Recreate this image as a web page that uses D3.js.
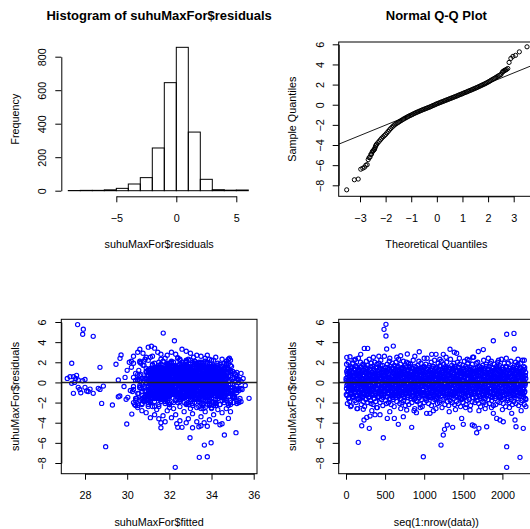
<!DOCTYPE html>
<html><head><meta charset="utf-8">
<script src="https://cdn.jsdelivr.net/npm/d3@7"></script>
<style>body{margin:0;background:#fff}svg{display:block}</style>
</head><body><svg id="c" width="530" height="529"></svg>
<script>
// ---------------- DATA ----------------
const histBreaks = [-9,-8,-7,-6,-5,-4,-3,-2,-1,0,1,2,3,4,5,6];
const histCounts = [1,2,2,5,14,40,78,255,645,856,350,68,6,3,4];
const histXTicks = [-5,0,5];
const histYTicks = [0,200,400,600,800];

const qqPoints = [
[-3.52,-8.45],[-3.22,-7.45],[-3.07,-7.38],[-2.97,-6.4],[-2.89,-6.3],[-2.82,-6.2],[-2.77,-6.0],[-2.72,-5.95],[-2.68,-5.45],[-2.645,-5.25],[-2.61,-5.2],[-2.58,-4.95],[-2.55,-4.9],[-2.525,-4.7],[-2.5,-4.6],[-2.475,-4.55],[-2.45,-4.45],[-2.43,-4.4],[-2.41,-4.25],[-2.39,-4.1],[-2.37,-4.0],[-2.35,-3.92],[-2.3,-3.77],[-2.25,-3.62],[-2.2,-3.47],[-2.15,-3.32],[-2.1,-3.19],[-2.05,-3.07],[-2.0,-2.95],[-1.95,-2.8],[-1.9,-2.65],[-1.85,-2.5],[-1.8,-2.36],[-1.75,-2.23],[-1.7,-2.11],[-1.65,-2.0],[-1.6,-1.9],[-1.55,-1.82],[-1.5,-1.74],[-1.45,-1.66],[-1.4,-1.58],[-1.35,-1.5],[-1.3,-1.42],[-1.25,-1.35],[-1.2,-1.28],[-1.15,-1.21],[-1.1,-1.14],[-1.05,-1.08],[-1.0,-1.02],[-0.95,-0.96],[-0.9,-0.89],[-0.85,-0.83],[-0.8,-0.77],[-0.75,-0.72],[-0.7,-0.66],[-0.65,-0.61],[-0.6,-0.55],[-0.55,-0.5],[-0.5,-0.45],[-0.45,-0.4],[-0.4,-0.35],[-0.35,-0.3],[-0.3,-0.25],[-0.25,-0.2],[-0.2,-0.14],[-0.15,-0.08],[-0.1,-0.03],[-0.05,0.03],[0,0.09],[0.05,0.14],[0.1,0.19],[0.15,0.24],[0.2,0.29],[0.25,0.34],[0.3,0.39],[0.35,0.44],[0.4,0.49],[0.45,0.54],[0.5,0.59],[0.55,0.64],[0.6,0.69],[0.65,0.74],[0.7,0.79],[0.75,0.84],[0.8,0.89],[0.85,0.95],[0.9,1.0],[0.95,1.05],[1.0,1.1],[1.05,1.16],[1.1,1.21],[1.15,1.26],[1.2,1.31],[1.25,1.37],[1.3,1.42],[1.35,1.47],[1.4,1.53],[1.45,1.58],[1.5,1.64],[1.55,1.69],[1.6,1.75],[1.65,1.81],[1.7,1.87],[1.75,1.93],[1.8,1.99],[1.85,2.05],[1.9,2.11],[1.95,2.18],[2.0,2.25],[2.05,2.32],[2.1,2.4],[2.15,2.48],[2.2,2.55],[2.25,2.62],[2.3,2.7],[2.35,2.78],[2.4,2.86],[2.45,2.93],[2.5,3.0],[2.55,3.2],[2.58,3.3],[2.61,3.35],[2.645,3.4],[2.68,3.45],[2.72,3.5],[2.77,3.6],[2.82,4.2],[2.89,4.6],[2.97,4.8],[3.07,4.9],[3.22,5.25],[3.52,5.75]
];
const qqLineCoef = [0.05, 1.036]; // intercept, slope
const qqXTicks = [-3,-2,-1,0,1,2,3];
const residYTicks = [-8,-6,-4,-2,0,2,4,6];
const fittedXTicks = [28,30,32,34,36];
const indexXTicks = [0,500,1000,1500,2000];
const nObs = 2300;

// residuals of a first sample of observations (time order)
const residualsCore = [
0.4,-1.2,1.8,-0.3,0.9,-2.1,1.3,0.1,-0.8,2.0,-1.6,0.6,-0.1,1.1,-1.9,0.3,-0.6,1.6,-1.0,0.8,-2.3,1.4,-0.4,0.2,-1.4,
1.0,-0.7,1.9,-1.5,0.5,-0.2,2.2,-1.1,0.7,-1.8,1.2,0.0,-0.9,1.7,-2.0,0.4,-0.5,1.5,-1.3,0.9,-2.6,1.1,-0.3,2.4,-1.7,
0.6,-1.0,1.3,-0.1,0.8,-1.6,2.0,-0.6,0.2,-2.2,1.5,-0.8,1.0,-1.4,0.3,1.8,-0.4,-1.9,0.7,1.2,-1.1,0.1,-2.4,1.6,-0.2,
-0.9,1.4,-1.7,0.5,2.1,-0.5,0.9,-1.2,1.7,-2.0,0.0,1.1,-0.7,-1.5,0.6,2.3,-1.0,0.4,-0.3,1.3,-1.8,0.8,-2.1,1.9,-0.6,
0.2,-1.3,1.0,-0.8,1.6,-2.2,0.7,-0.1,1.2,-1.6,0.3,2.0,-0.4,-1.1,0.9,-1.9,1.5,-0.6,0.5,-2.5,1.8,-0.2,1.1,-1.4,0.6,
-1.5,0.8,-0.3,1.9,-1.0,0.1,1.4,-2.0,0.4,-0.7,2.2,-1.2,0.9,-1.7,0.0,1.3,-0.5,1.7,-2.3,0.6,-0.9,1.0,-1.3,0.3,2.6,
1.2,-0.4,0.7,-1.8,1.5,-0.8,0.2,-2.1,1.0,-0.1,1.8,-1.4,0.5,-0.6,1.3,-2.0,0.8,-1.1,2.1,-0.3,0.4,-1.6,1.6,-0.9,0.0,
-2.2,1.1,-0.5,0.6,-1.2,1.9,-0.2,0.9,-1.7,1.4,-0.7,0.3,-2.4,1.7,-1.0,0.5,1.2,-0.4,-1.5,2.0,-0.8,0.1,-1.9,1.5,0.7,
0.3,-1.1,1.6,-0.6,2.3,-1.4,0.8,-0.2,1.1,-2.1,0.5,-0.9,1.8,-1.6,0.0,1.3,-0.5,-2.0,0.9,1.5,-1.2,0.4,-0.7,2.1,-1.8,
1.4,-0.3,0.6,-1.5,1.0,-2.3,1.7,-0.8,0.2,-1.1,2.0,-0.1,0.7,-1.9,1.2,-0.6,0.4,-1.3,1.9,-2.2,0.9,-0.4,1.5,-1.0,0.1,
-0.7,1.8,-1.6,0.3,1.1,-0.2,-2.0,1.4,-0.9,0.6,-1.4,2.2,-0.5,0.8,-1.7,1.0,0.0,-2.6,1.6,-1.1,0.5,-0.3,1.3,-1.8,0.9,
0.5,-1.9,1.2,-0.6,1.7,-1.3,0.1,-0.8,2.1,-1.5,0.7,-0.1,1.4,-2.2,0.3,-1.0,1.9,-0.4,0.8,-1.7,1.1,-2.4,0.2,1.5,-0.7,
-1.2,0.9,-0.3,1.6,-2.0,0.4,1.0,-1.6,0.6,-0.5,1.8,-1.1,0.0,-1.8,1.3,2.4,-0.9,0.7,-1.4,0.2,1.5,-2.1,0.8,-0.2,1.1,
1.7,-0.8,0.3,-1.5,1.2,-0.4,2.0,-2.3,0.5,-1.0,1.4,-0.6,0.9,-1.9,0.1,1.6,-1.2,0.6,-0.1,2.2,-1.7,0.4,-0.7,1.0,-1.4,
0.0,-1.6,1.5,-0.9,0.8,-2.1,1.1,-0.3,1.9,-1.3,0.4,-0.5,1.3,-2.0,0.7,-1.1,1.7,-0.2,0.5,-1.8,2.1,-0.6,0.2,-2.5,1.2,
-0.4,1.0,-1.7,0.6,1.8,-1.0,0.2,-0.7,1.4,-2.2,0.9,-0.1,1.6,-1.5,0.3,-0.8,2.0,-1.2,0.7,-1.9,1.1,0.0,-0.5,1.5,-2.3,
0.8,-1.4,1.3,-0.2,0.5,-1.8,2.3,-0.9,1.0,-1.2,0.1,1.7,-0.6,-2.0,0.6,1.2,-1.6,0.4,-0.3,1.9,-1.1,0.9,-2.2,0.2,1.4,
-1.0,0.3,1.6,-0.5,-1.9,1.1,0.7,-1.3,2.0,-0.1,0.4,-2.1,1.5,-0.8,0.9,-1.5,0.0,1.8,-0.7,1.2,-2.4,0.6,-0.4,1.0,-1.7,
1.1,-0.6,0.2,-1.6,1.7,-2.0,0.8,-0.3,1.3,-1.1,2.1,-0.9,0.5,-1.4,0.0,1.6,-2.2,0.9,-0.5,1.4,-1.8,0.3,-1.0,1.9,-0.2,
-1.3,0.7,-0.4,2.2,-1.7,0.1,1.2,-0.8,0.6,-2.3,1.5,-0.2,1.0,-1.2,0.4,-1.9,1.8,-0.6,0.8,-1.5,0.2,2.5,-1.1,0.5,-0.9,
0.9,-2.0,1.4,-0.1,0.3,-1.5,1.9,-0.7,1.1,-1.8,0.6,-0.4,2.0,-1.0,0.0,1.3,-2.1,0.7,-0.3,1.6,-1.4,1.0,-0.6,-2.4,1.2,
-0.2,1.5,-1.1,0.4,-1.9,0.8,1.7,-0.5,0.2,-1.3,2.2,-2.0,0.6,-0.8,1.2,-0.1,-1.6,1.0,0.3,-2.2,1.8,-0.7,0.9,-1.2,0.1,
1.3,-0.9,0.5,-1.7,1.0,-0.3,1.6,-2.1,0.7,-1.0,0.1,1.9,-1.4,0.4,-0.6,2.1,-1.8,0.8,-0.2,1.1,-1.5,0.0,1.4,-2.3,0.6,
-1.1,0.2,1.8,-0.4,0.9,-1.6,0.5,-2.2,1.3,-0.7,1.6,-1.2,0.3,-0.1,2.0,-1.9,0.7,-0.5,1.2,-1.4,0.4,1.7,-0.8,-2.0,1.0,
0.6,-1.5,1.1,-0.2,2.3,-1.0,0.0,-1.7,1.5,-0.6,0.8,-2.1,1.3,-0.9,0.4,1.9,-1.3,0.1,-0.4,1.0,-2.4,1.6,-0.7,0.5,-1.2,
1.6,-0.1,0.4,-1.8,1.2,-0.6,1.9,-1.1,0.2,-2.0,0.9,-0.3,1.4,-1.5,0.6,-0.8,2.1,-1.7,0.0,1.1,-1.2,0.7,-2.2,1.5,-0.5,
-0.8,1.2,-1.9,0.5,0.0,1.7,-1.3,0.8,-0.4,2.0,-2.1,0.3,1.0,-0.9,1.4,-1.6,0.6,-0.2,1.8,-1.0,0.2,-2.3,1.3,-0.6,0.9,
0.1,-1.4,1.5,-0.7,1.9,-2.0,0.6,-0.3,1.1,-1.8,0.4,2.2,-1.1,0.8,-0.5,1.6,-1.5,0.2,-2.2,1.3,-0.9,0.7,-0.1,1.0,-1.7
];
const fittedCore = [
32.4,33.1,31.6,34.2,32.9,33.5,31.2,34.8,32.1,33.8,30.7,33.3,32.6,34.5,31.9,33.0,35.1,32.3,31.4,34.0,33.6,32.8,30.3,34.4,31.8,
33.2,32.0,34.7,31.5,33.9,32.5,31.0,34.1,33.4,35.3,32.2,31.7,33.7,34.9,32.7,30.9,33.0,34.3,31.3,32.9,33.5,35.0,31.9,32.4,34.6,
31.1,33.6,32.3,34.0,30.5,33.2,32.8,34.4,31.6,33.9,32.1,35.2,31.4,33.1,34.7,32.6,30.8,33.8,32.0,34.2,31.7,33.4,32.5,33.4,31.2,
34.3,32.7,31.8,33.5,30.2,34.8,32.2,33.0,31.5,34.1,33.7,32.4,31.0,35.0,33.3,32.9,34.6,31.3,33.6,32.1,30.6,34.0,32.8,33.2,31.9,
32.6,34.5,31.4,33.1,32.0,34.9,31.7,33.8,32.3,30.4,34.2,33.4,31.1,32.7,35.1,33.0,31.9,34.4,32.5,33.7,31.2,34.7,32.9,30.9,33.5,
33.9,31.6,32.8,34.3,33.2,31.0,32.4,35.3,33.6,31.8,34.1,32.2,33.0,30.7,34.6,32.6,31.4,33.4,34.8,32.0,33.8,31.5,32.9,34.0,31.2,
31.3,33.3,32.1,34.5,32.7,33.9,30.5,34.2,31.9,33.1,32.5,35.0,31.7,33.6,32.3,34.9,31.1,33.0,32.8,34.4,30.8,33.5,32.0,34.7,31.6,
32.9,34.0,31.2,33.7,32.4,30.3,34.6,33.2,31.8,32.6,35.2,33.4,31.5,34.1,32.2,33.8,31.0,34.3,32.7,33.1,31.4,35.4,32.5,33.9,30.6,
34.4,32.3,33.5,31.7,34.8,32.0,33.0,31.3,34.2,33.6,32.8,30.9,33.3,34.7,31.9,32.5,33.9,31.1,34.0,32.9,33.2,35.1,31.6,32.1,33.7,
31.5,33.8,32.6,34.5,31.0,33.1,32.4,34.9,30.4,33.5,32.2,34.1,31.8,33.4,32.7,35.3,31.2,33.0,34.6,32.0,33.6,31.4,32.8,34.3,33.2,
32.1,34.7,31.9,33.3,32.5,30.7,34.2,33.9,31.6,32.9,33.5,33.0,31.3,34.4,32.3,33.1,31.7,34.0,32.6,30.5,33.7,32.0,34.8,31.1,33.4,
33.0,31.8,34.5,32.4,33.6,31.2,32.8,34.1,33.2,30.8,34.9,32.2,33.8,31.5,32.7,35.2,33.3,31.9,34.3,32.5,33.0,31.0,34.6,32.1,33.9,
34.0,32.6,31.4,33.4,32.0,34.7,31.7,33.1,32.9,30.6,34.4,33.5,31.1,32.3,34.8,33.7,31.6,32.8,35.1,33.2,31.3,34.2,32.4,33.8,30.9,
31.9,33.3,32.7,34.6,31.2,33.0,32.1,34.1,30.3,33.6,32.5,35.4,31.8,33.9,32.2,34.5,31.5,33.2,32.9,34.0,31.0,33.5,32.6,34.9,31.4,
32.8,34.3,31.6,33.1,32.3,30.5,34.7,33.4,31.9,32.0,33.8,35.0,31.3,34.2,32.7,33.0,31.7,34.4,32.4,33.7,30.8,34.0,32.9,33.3,31.1,
33.6,31.5,32.5,34.8,33.2,31.8,32.2,34.5,33.9,30.7,34.1,32.8,33.0,31.2,32.6,35.3,33.5,31.4,34.6,32.1,33.3,31.9,34.3,32.4,30.4,
34.1,32.9,31.0,33.7,32.4,34.9,31.6,33.2,32.7,30.9,34.3,33.5,31.8,32.2,35.2,33.0,31.5,34.6,32.5,33.8,31.3,34.0,32.0,33.4,34.7,
31.7,33.1,32.3,34.4,31.1,33.6,32.8,34.2,30.6,33.3,32.0,34.8,31.4,33.9,32.6,35.1,31.9,33.0,32.4,34.5,31.2,33.7,32.9,34.1,31.6,
32.5,34.6,31.3,33.4,32.1,30.3,34.0,33.8,31.8,32.7,33.2,35.0,31.5,34.3,32.2,33.5,31.0,34.7,32.8,33.1,30.8,34.2,32.4,33.6,31.9,
33.3,31.2,32.6,34.9,33.0,31.7,32.3,34.4,33.7,30.5,34.1,32.9,33.4,31.4,32.0,35.2,33.9,31.6,34.5,32.5,33.1,31.1,34.8,32.7,30.7,
34.2,32.4,31.9,33.5,32.8,34.0,31.3,33.2,32.1,30.9,34.6,33.6,31.5,32.6,35.3,33.0,31.8,34.3,32.3,33.9,31.0,34.7,32.9,33.4,34.1,
31.4,33.7,32.2,34.5,31.6,33.1,32.7,34.9,30.4,33.3,32.5,34.2,31.2,33.8,32.0,35.0,31.7,33.5,32.8,34.4,31.9,33.0,32.4,34.0,31.1,
32.6,34.8,31.5,33.2,32.3,30.6,34.1,33.6,31.8,32.9,33.4,32.1,31.3,34.5,32.1,33.7,31.0,34.3,32.7,33.1,30.8,34.6,32.5,33.9,31.6,
33.5,31.9,32.8,34.7,33.3,31.1,32.4,34.0,33.8,30.3,34.4,32.2,33.0,31.4,32.6,35.4,33.6,31.7,34.2,32.0,33.2,31.2,34.9,32.9,30.9,
34.3,32.7,31.6,33.4,32.5,34.6,31.2,33.9,32.3,30.7,34.1,33.1,31.9,32.8,35.2,33.5,31.5,34.8,32.1,33.7,31.3,34.0,32.6,33.3,34.5,
31.8,33.0,32.9,34.2,31.4,33.6,32.0,34.7,30.5,33.2,32.4,34.4,31.1,33.8,32.7,35.0,31.7,33.4,32.2,34.9,31.0,33.1,32.8,34.1,31.5,
32.3,34.5,31.3,33.7,32.6,30.8,34.3,33.5,31.6,32.1,33.9,35.3,31.9,34.0,32.9,33.2,31.2,34.6,32.5,33.0,30.6,34.2,32.7,33.6,31.4,
33.1,31.7,32.4,34.8,33.4,31.0,32.2,34.1,33.8,30.4,34.7,32.8,33.3,31.5,32.0,33.1,33.7,31.8,34.4,32.6,33.0,31.3,34.0,32.3,30.9
];
// residuals of a second, interleaved sample of observations
const residualsCore2 = [
0.2,-0.6,1.1,-1.3,0.5,-0.1,0.8,-0.9,1.4,-0.4,0.3,-1.5,0.9,-0.2,0.6,-1.1,1.2,0.0,-0.7,1.5,-0.3,0.4,-1.2,0.7,-0.5,
-0.8,1.0,0.1,-1.4,0.6,-0.3,1.3,-0.6,0.2,-1.0,0.9,-0.2,1.6,-1.3,0.4,-0.7,0.0,1.1,-0.5,0.3,-1.6,0.8,-0.1,1.2,-0.9,
0.5,-1.1,0.7,-0.4,1.5,-0.8,0.1,-1.3,0.9,-0.2,0.4,-0.6,1.2,-1.5,0.3,-0.1,0.8,-1.0,1.7,-0.4,0.6,-1.2,0.0,1.0,-0.7,
-0.3,0.9,-1.6,0.2,1.1,-0.5,0.6,-0.9,0.0,1.4,-1.2,0.4,-0.3,0.8,-1.4,1.3,-0.6,0.1,-1.0,0.7,-0.2,1.6,-0.8,0.3,-1.1,
1.0,-0.4,0.3,-1.2,0.7,-0.7,1.4,-0.1,0.5,-1.6,0.2,0.9,-0.9,1.1,-0.3,0.6,-1.3,0.0,1.5,-0.6,0.4,-1.0,0.8,-0.2,1.2,
-1.4,0.6,-0.2,1.3,-0.8,0.1,0.9,-1.1,0.5,-0.5,1.7,-0.9,0.3,-1.3,0.7,-0.1,1.0,-0.6,0.2,-1.5,1.2,-0.3,0.6,-0.8,0.4,
0.8,-0.9,0.4,-0.2,1.2,-1.4,0.0,-0.6,1.0,-0.3,0.7,-1.1,1.5,-0.5,0.2,-1.0,0.9,-0.1,0.5,-1.7,1.3,-0.4,0.1,-0.8,1.1,
-0.6,0.3,1.4,-1.0,0.6,-0.3,-1.5,0.9,0.1,-0.7,1.1,-1.2,0.4,0.0,-0.4,1.6,-0.9,0.7,-0.2,1.0,-1.3,0.5,-0.6,1.2,-0.1,
0.4,-1.3,0.9,-0.5,0.2,1.3,-0.8,0.6,-1.1,0.0,1.0,-0.4,0.7,-1.6,0.3,-0.2,1.4,-1.0,0.5,-0.6,1.1,-0.3,0.8,-1.4,0.1,
-0.9,1.2,-0.1,0.5,-1.2,0.8,-0.5,1.5,-0.7,0.3,-1.0,0.9,-0.2,1.1,-1.5,0.6,0.0,-0.8,1.3,-0.4,0.2,-1.1,0.7,-0.3,1.6,
0.6,-0.2,1.1,-1.4,0.3,-0.6,0.8,-1.0,1.4,-0.1,0.5,-1.3,0.0,0.9,-0.7,1.2,-0.4,0.4,-1.6,1.0,-0.9,0.2,1.5,-0.5,-1.2,
-0.4,0.7,-1.1,0.1,1.3,-0.8,0.5,-0.2,1.0,-1.5,0.4,-0.6,1.2,-0.9,0.2,0.8,-1.2,0.6,-0.3,1.4,-1.0,0.0,0.9,-0.7,0.3,
1.2,-0.7,0.2,-1.0,0.8,-0.4,1.5,-1.3,0.4,-0.1,0.6,-1.6,1.0,-0.5,0.3,-0.9,1.3,-0.2,0.7,-1.1,0.1,1.1,-0.6,0.5,-1.4,
-0.1,0.9,-1.3,0.5,-0.6,1.2,-0.3,0.7,-1.0,0.2,1.6,-0.8,0.4,-1.4,0.9,-0.2,0.6,-0.9,1.1,-0.5,0.0,-1.2,1.4,-0.4,0.8,
0.3,-1.0,0.7,-0.3,1.1,-1.5,0.5,-0.7,1.3,-0.1,0.2,-1.2,0.9,-0.6,1.6,-0.4,0.1,-1.1,0.6,-0.8,1.0,-0.2,0.4,-1.3,1.2,
-1.1,0.5,-0.4,1.0,-0.9,0.3,1.4,-0.6,0.0,-1.3,0.8,-0.2,1.2,-1.0,0.4,-0.5,1.5,-0.8,0.2,-1.4,0.7,0.1,-0.3,1.1,-0.7,
0.7,-0.5,1.3,-1.2,0.1,-0.8,0.9,-0.3,0.5,-1.5,1.1,-0.1,0.4,-1.0,1.4,-0.6,0.2,-1.3,0.8,0.0,-0.9,1.6,-0.4,0.6,-1.1,
-0.2,1.1,-0.9,0.4,-1.4,0.8,0.2,-0.5,1.2,-1.1,0.6,-0.3,1.5,-0.7,0.0,1.0,-1.2,0.3,-0.6,0.9,-1.6,0.5,-0.1,1.3,-0.8,
0.9,-1.2,0.3,-0.6,1.4,-0.2,0.6,-1.0,0.1,1.1,-0.8,0.5,-1.5,0.8,-0.4,1.2,-0.1,-1.1,0.7,-0.5,1.0,-1.3,0.4,-0.3,1.5,
-0.5,0.4,-1.3,1.0,-0.1,0.7,-0.8,1.3,-1.0,0.2,0.9,-0.4,0.6,-1.2,1.1,-0.7,0.3,-1.5,0.8,-0.2,1.4,-0.9,0.0,0.5,-1.1,
1.1,-0.3,0.6,-1.1,0.2,-0.7,1.2,-1.4,0.8,-0.5,0.0,1.5,-0.9,0.4,-0.2,1.0,-1.3,0.7,-0.6,0.3,-1.0,1.3,-0.4,0.9,-1.6,
-0.7,1.3,-0.2,0.3,-1.2,0.9,-0.6,1.1,-0.1,-1.5,0.5,-0.4,1.4,-0.9,0.7,-0.3,1.0,-1.1,0.1,-0.8,1.6,-0.5,0.4,-1.0,0.6,
0.5,-0.8,1.0,-0.4,0.1,-1.3,1.3,-0.2,0.7,-1.0,0.4,-0.6,1.1,-1.4,0.2,0.8,-0.9,1.5,-0.3,0.6,-1.2,0.0,0.9,-0.5,1.2,
-1.0,0.2,1.2,-0.7,0.6,-1.4,0.4,-0.1,1.0,-0.9,1.4,-0.3,0.3,-1.1,0.8,-0.6,1.6,-1.3,0.5,0.0,-0.8,1.1,-0.4,0.7,-1.5,
0.8,-1.4,0.5,-0.2,1.1,-0.9,0.2,-0.6,1.3,-1.2,0.7,0.0,-1.0,1.0,-0.4,0.4,-1.6,1.2,-0.1,0.6,-0.7,1.5,-0.3,0.9,-1.1,
-0.3,1.0,-0.9,0.6,-1.6,0.3,1.2,-0.5,0.8,-1.1,0.1,-0.2,1.4,-0.8,0.5,-1.3,0.9,-0.4,1.1,-1.0,0.2,0.7,-0.6,1.3,-0.1,
1.3,-0.6,0.0,-1.2,0.9,-0.3,0.5,-1.5,1.2,-0.7,0.3,-1.0,0.8,-0.1,1.6,-0.9,0.4,-0.5,1.0,-1.3,0.6,-0.2,1.1,-0.8,0.2,
-0.6,0.8,-1.1,1.4,-0.4,0.1,-0.9,1.1,-0.2,0.6,-1.4,0.9,-0.5,0.3,-1.2,1.2,-0.7,0.5,0.0,-1.0,1.5,-0.3,0.7,-1.6,0.4
];
const fittedCore2 = [
32.7,33.4,31.8,34.1,32.2,33.0,31.5,33.7,32.5,34.4,31.2,33.2,32.0,33.9,31.7,32.9,34.2,32.4,31.4,33.5,32.8,33.8,31.0,34.5,32.3,
33.3,32.1,34.0,31.6,33.6,32.6,31.3,33.1,34.3,32.8,31.9,33.4,32.2,34.6,31.1,33.0,32.5,33.8,31.8,34.1,32.9,31.5,33.5,32.3,34.4,
31.7,33.2,32.4,34.2,31.4,33.7,32.9,31.1,33.9,32.0,34.5,31.6,33.3,32.6,34.0,31.9,33.0,32.2,34.3,31.3,33.6,32.8,31.5,33.4,32.1,
34.1,32.5,31.8,33.5,32.9,31.2,33.8,32.3,34.4,31.7,33.1,32.7,31.4,33.9,32.0,34.6,31.9,33.3,32.4,31.0,33.6,32.8,34.2,31.6,33.0,
32.2,33.7,31.5,34.0,32.6,33.2,31.8,34.3,32.9,31.3,33.5,32.1,34.5,31.7,33.0,32.4,33.9,31.1,34.1,32.7,33.4,31.9,32.3,34.4,31.6,
33.8,31.4,32.8,33.3,34.2,31.9,32.5,33.0,31.2,34.6,32.2,33.6,31.7,32.9,34.0,31.5,33.4,32.6,31.0,33.9,32.1,34.3,31.8,33.1,32.4,
31.3,33.5,32.0,34.4,31.8,32.7,33.9,31.6,33.2,32.3,34.1,31.1,33.7,32.8,31.4,34.5,32.5,33.0,31.9,33.6,32.2,34.0,31.7,32.9,33.3,
32.6,34.2,31.5,33.1,32.4,34.5,31.2,33.8,32.1,31.7,33.4,32.9,34.0,31.4,33.6,32.3,31.9,34.3,32.7,33.0,31.1,33.5,32.5,34.1,31.8,
33.1,31.9,32.7,34.0,31.3,33.6,32.2,33.3,31.6,34.4,32.8,31.0,33.9,32.4,34.2,31.5,32.9,33.7,31.8,32.0,34.6,33.2,31.4,32.6,33.8,
34.3,32.0,31.7,33.4,32.5,34.1,31.2,33.0,32.8,31.5,33.7,32.3,34.5,31.9,33.2,32.6,31.1,33.9,32.1,34.0,31.6,33.5,32.9,31.3,33.1,
31.8,33.3,32.4,34.6,31.4,32.9,33.8,31.7,34.2,32.2,33.0,31.1,33.6,32.7,34.4,31.9,32.5,33.4,31.5,34.1,32.0,33.2,31.3,32.8,34.0,
32.9,34.4,31.6,33.2,32.1,31.0,33.9,32.6,34.3,31.8,33.5,32.4,31.4,34.0,32.8,33.1,31.7,34.5,32.3,33.7,31.2,32.9,34.2,31.9,33.4,
33.6,31.5,32.3,34.1,33.0,31.8,32.6,33.8,31.3,34.4,32.0,33.3,31.9,32.7,34.6,31.6,33.5,32.2,31.1,33.9,32.5,34.0,31.4,33.2,32.8,
31.2,33.7,32.5,34.3,31.7,33.1,32.0,34.5,31.5,32.9,33.6,31.9,34.2,32.4,33.0,31.3,33.8,32.7,34.1,31.0,33.4,32.2,31.8,34.4,32.6,
32.4,34.0,31.9,33.5,32.8,31.4,34.2,33.0,31.7,32.3,33.9,31.2,34.5,32.6,33.3,31.6,32.1,34.3,32.9,33.6,31.5,34.1,32.5,33.1,31.8,
33.9,31.3,32.7,34.4,33.2,31.8,32.3,34.0,33.5,31.0,34.6,32.8,33.1,31.6,32.4,34.2,33.7,31.4,34.1,32.0,33.3,31.9,34.5,32.6,31.5,
34.0,32.6,31.2,33.7,32.3,34.3,31.7,33.4,32.9,31.4,34.1,33.0,31.9,32.5,34.6,33.2,31.6,34.4,32.2,33.8,31.1,33.5,32.7,33.1,34.2,
31.6,33.1,32.2,34.5,31.3,33.8,32.9,34.0,31.8,33.3,32.4,34.2,31.5,33.6,32.7,34.4,31.9,33.0,32.1,34.6,31.2,33.4,32.8,34.1,31.7,
32.5,34.3,31.4,33.2,32.0,31.1,33.9,33.5,31.8,32.6,33.0,34.5,31.6,34.0,32.3,33.7,31.3,34.2,32.9,33.1,31.0,33.6,32.4,34.4,31.9,
33.4,31.7,32.8,34.1,33.0,31.5,32.2,34.6,33.8,31.2,34.0,32.7,33.3,31.9,32.1,34.3,33.6,31.6,34.4,32.5,33.2,31.3,34.2,32.9,31.8,
34.2,32.3,31.8,33.6,32.9,34.0,31.4,33.1,32.0,31.7,34.5,33.5,31.5,32.6,34.1,33.0,31.9,34.3,32.4,33.8,31.1,34.6,32.8,33.3,34.0,
31.5,33.9,32.1,34.4,31.8,33.0,32.6,34.2,31.3,33.4,32.5,34.0,31.2,33.7,32.2,34.5,31.6,33.2,32.9,34.1,31.9,33.1,32.3,33.8,31.4,
32.8,34.6,31.6,33.3,32.4,31.2,34.0,33.7,31.9,32.7,33.5,34.2,31.4,34.4,32.0,33.6,31.1,34.1,32.6,33.0,31.7,34.3,32.5,33.9,31.5,
33.5,31.8,32.9,34.5,33.2,31.3,32.5,34.1,33.9,31.6,34.3,32.3,33.1,31.5,32.7,34.0,33.4,31.9,34.2,32.1,33.0,31.2,34.6,32.8,31.7,
34.1,32.7,31.5,33.4,32.4,34.5,31.3,33.8,32.2,31.8,34.0,33.2,31.9,32.9,34.3,33.6,31.6,34.4,32.0,33.7,31.4,33.9,32.6,33.1,34.2,
31.9,33.2,32.8,34.0,31.6,33.5,32.1,34.6,31.2,33.0,32.5,34.2,31.4,33.9,32.7,34.3,31.8,33.3,32.3,34.5,31.1,33.6,32.9,34.1,31.7,
32.2,34.4,31.4,33.6,32.6,31.7,34.1,33.3,31.8,32.0,33.8,34.5,31.9,34.0,32.8,33.1,31.3,34.2,32.4,33.4,31.0,34.3,32.7,33.5,31.6,
33.0,31.6,32.5,34.6,33.3,31.1,32.3,34.0,33.7,31.5,34.4,32.9,33.2,31.8,32.1,34.2,33.6,31.9,34.3,32.4,33.9,31.2,34.1,32.6,33.4
];
// isolated / outer points: [fitted, residual]
const fittedOutliers = [
[27.65,5.74],[27.92,5.29],[27.89,4.78],[28.39,4.58],[27.37,1.9],[28.71,1.5],
[27.16,0.4],[27.29,0.57],[27.45,0.57],[27.56,0.4],[27.68,0.24],[27.89,0.17],[27.37,-0.09],[27.68,-0.49],[28.0,-0.49],[28.24,-0.66],[27.45,-1.08],[27.8,-1.02],[28.08,-0.85],[28.39,-1.08],[28.63,-0.59],[28.87,-0.36],[28.71,-0.69],[27.6,0.7],[27.75,-0.7],[28.0,0.3],[27.5,0.0],[28.15,-0.9],
[28.79,-2.08],[29.3,-2.24],[28.98,-6.38],[29.47,1.8],[29.58,0.24],[29.58,-1.42],[29.65,-1.35],[29.98,-4.13],[30.22,-3.14],[29.95,-1.68],[30.03,-1.48],[29.71,2.72],[29.66,2.39],[29.9,0.5],[29.85,-0.4],[30.0,1.2],[30.1,2.0],[30.15,-0.8],
[31.71,4.9],[32.24,4.14],[32.28,-8.43],[32.98,-5.49],[33.42,-7.44],[33.8,-7.38],[33.66,-6.22],[33.98,-5.99],[34.61,-5.22],[35.16,-4.99],[35.78,-1.58],[34.8,-3.57],[34.4,-4.2],[34.5,-4.1],[33.5,-4.3],[33.8,-4.35],[33.65,-4.0],[33.1,-4.5],[32.4,-4.46],[32.6,-4.46],[31.6,-4.5],[31.6,-4.0],[32.35,-4.1],
[30.3,2.6],[30.5,3.0],[30.6,3.3],[30.75,2.9],[31.0,3.5],[31.15,3.6],[31.3,3.4],[31.45,3.0],[31.6,2.8],[31.9,2.7],[32.1,3.0],[32.3,2.8],[32.6,3.3],[32.8,3.1],[33.0,2.9],[33.3,2.7],[33.5,2.6],[33.8,2.7],[34.2,2.5],[34.5,2.3],[34.85,2.4],[33.9,2.3],[31.8,2.4],[32.4,2.45],[33.15,2.5],[30.9,2.5],[34.7,2.1],[35.0,1.1],[35.2,1.0],[35.4,0.9],[35.5,0.4],[35.6,-0.3],[35.45,-0.7],[35.35,-1.6],[35.2,-2.1],[35.05,-2.0],
[30.5,-2.5],[30.7,-2.8],[30.9,-3.0],[31.1,-3.5],[31.3,-3.2],[31.5,-3.6],[31.7,-3.3],[31.9,-2.8],[32.1,-3.5],[32.3,-3.2],[32.5,-3.8],[32.7,-2.9],[32.9,-3.6],[33.1,-3.1],[33.3,-3.9],[33.5,-3.4],[33.7,-2.9],[33.9,-3.7],[34.1,-3.2],[34.3,-2.7],[34.5,-3.0],[34.7,-2.6],[34.9,-2.9],[32.0,-2.5],[33.0,-2.6],[34.0,-2.5],[31.4,-2.7],[32.8,-4.0],[33.4,-4.4],[34.2,-3.9],[31.8,-3.9],[32.2,-2.6],[33.6,-2.6],[30.35,-2.2],[30.45,-1.6],[30.25,-0.9],[30.4,0.9],[30.2,1.5],
[30.55,1.2],[30.6,-0.5],[30.65,0.8],[30.7,-1.3],[30.75,1.7],[30.8,0.2],[30.85,-0.9],[30.9,1.4],[30.95,-1.7],[30.6,2.1],[30.7,0.4],[30.8,-1.9],[30.9,0.0],[30.55,-1.1],[30.65,1.9],[30.75,-0.2],[30.85,2.3],[30.95,0.7],[30.5,0.3],[30.7,-2.1],
[34.65,1.5],[34.7,-0.6],[34.75,0.9],[34.8,-1.4],[34.85,0.2],[34.9,1.2],[34.95,-0.9],[35.0,0.5],[35.05,-1.5],[35.1,0.1],[35.15,0.8],[35.2,-0.4],[34.7,-1.8],[34.8,1.9],[34.9,-0.2],[35.0,-1.1],[35.1,-0.7],[35.25,0.3],[34.6,-2.0],[34.95,1.6]
];
// isolated / outer points: [index, residual]
const indexOutliers = [
[511,5.77],[486,5.27],[511,4.61],[1884,4.14],[2055,4.78],[2148,4.87],[2152,3.32],[234,3.38],[277,3.38],[605,3.61],[51,2.55],[10,2.49],[188,2.79],[937,3.05],[1096,2.79],[1151,2.79],[1244,2.79],[1330,3.29],[1385,3.0],[1415,2.9],[1692,3.07],[1756,3.26],[520,3.32],[699,2.65],[784,2.82],
[157,-5.95],[477,-5.49],[989,-7.38],[1215,-6.22],[2055,-6.38],[2055,-8.43],[2225,-7.44],[2267,-4.56],[2174,-4.4],[298,-4.56],[201,-4.3],[840,-4.46],[1244,-5.22],[1260,-4.66],[1295,-4.23],[1364,-4.46],[1500,-4.16],[1615,-4.23],[1640,-4.33],[1671,-5.0],[1700,-4.56],[1799,-4.4],[2011,-3.9],[1969,-3.73],[669,-4.16],[618,-3.57],[733,-3.4],[230,-3.73],[265,-3.47],[307,-3.34],[371,-3.2],[435,-3.2],[528,-3.57],[1031,-3.07],[1074,-3.07],[1117,-2.8],[1479,-3.57],[1586,-2.74],[1884,-3.07],[1927,-3.57],[2119,-3.07],[2161,-3.73],[221,-2.67],[776,-2.74],
[120,2.3],[350,2.5],[420,2.6],[560,2.4],[650,2.5],[880,2.6],[1000,2.4],[1200,2.3],[1280,2.5],[1450,2.4],[1550,2.3],[1620,2.5],[1820,2.4],[1950,2.2],[2050,2.4],[2200,2.3],[2280,2.2],
[60,-2.4],[140,-2.6],[330,-2.8],[400,-2.5],[560,-2.9],[700,-2.6],[870,-2.8],[900,-3.0],[950,-2.5],[1150,-2.6],[1320,-2.9],[1400,-2.7],[1530,-2.5],[1700,-2.8],[1780,-2.6],[1860,-2.5],[2000,-2.7],[2090,-2.5],[2240,-2.8],[2300,-2.4]
];

// ---------------- DRAWING ----------------
const FONT = '"Liberation Sans", Arial, Helvetica, sans-serif';
const svg = d3.select("#c");
svg.append("rect").attr("width",530).attr("height",529).attr("fill","#fff");

const P = {
  hist:{x0:61.3,x1:257,y0:42,y1:196.3},
  qq:{x0:338.7,x1:534,y0:42,y1:196.3},
  fit:{x0:61.3,x1:257,y0:319.3,y1:473.7},
  idx:{x0:338.7,x1:534,y0:319.3,y1:473.7}
};

const xHist = d3.scaleLinear().domain([-5,5]).range([116.3,236.3]);
const yHist = d3.scaleLinear().domain([0,800]).range([190.7,56.7]);
const xQQ = d3.scaleLinear().domain([-3,3]).range([360,513.7]);
const yQQ = d3.scaleLinear().domain([-8,6]).range([185.3,44.3]);
const xFit = d3.scaleLinear().domain([28,36]).range([85,253.7]);
const yBot = d3.scaleLinear().domain([-8,6]).range([463,322]);
const xIdx = d3.scaleLinear().domain([0,2000]).range([346,502.4]);

function styleAxis(g){
  g.selectAll("path.domain").attr("stroke","#000").attr("stroke-width",1);
  g.selectAll(".tick line").attr("stroke","#000").attr("stroke-width",1);
  g.selectAll(".tick text").attr("fill","#000").style("font-family",FONT).style("font-size","10.8px");
}
function xAxis(scale, ticks, y){
  const g = svg.append("g").attr("transform",`translate(0,${y})`)
    .call(d3.axisBottom(scale).tickValues(ticks).tickSize(6).tickSizeOuter(0).tickFormat(d3.format("d")));
  styleAxis(g);
  g.selectAll(".tick text").attr("y",25.5).attr("dy",0);
  return g;
}
function yAxis(scale, ticks, x){
  const g = svg.append("g").attr("transform",`translate(${x},0)`)
    .call(d3.axisLeft(scale).tickValues(ticks).tickSize(6).tickSizeOuter(0).tickFormat(d3.format("d")));
  styleAxis(g);
  g.selectAll(".tick text").attr("x",0).attr("dy",0).attr("text-anchor","middle")
    .attr("transform","translate(-15,0) rotate(-90)");
  return g;
}
function title(p, txt){
  svg.append("text").attr("x",(p.x0+p.x1)/2).attr("y",19.5).attr("text-anchor","middle")
    .style("font-family",FONT).style("font-size","13px").style("font-weight","bold").attr("fill","#000").text(txt);
}
function labels(p, xl, yl){
  svg.append("text").attr("x",(p.x0+p.x1)/2).attr("y",p.y1+52).attr("text-anchor","middle")
    .style("font-family",FONT).style("font-size","10.8px").attr("fill","#000").text(xl);
  svg.append("text").attr("transform",`translate(${p.x0-42.8},${(p.y0+p.y1)/2}) rotate(-90)`).attr("text-anchor","middle")
    .style("font-family",FONT).style("font-size","10.8px").attr("fill","#000").text(yl);
}
function box(p){
  svg.append("rect").attr("x",p.x0).attr("y",p.y0).attr("width",p.x1-p.x0).attr("height",p.y1-p.y0)
    .attr("fill","none").attr("stroke","#000").attr("stroke-width",1);
}
function clip(id,p){
  svg.append("clipPath").attr("id",id).append("rect").attr("x",p.x0).attr("y",p.y0).attr("width",p.x1-p.x0).attr("height",p.y1-p.y0);
}

// ---- Panel 1: histogram
const bins = histCounts.map((c,i)=>({x0:histBreaks[i],x1:histBreaks[i+1],n:c}));
svg.append("g").selectAll("rect").data(bins).join("rect")
  .attr("x",d=>xHist(d.x0)).attr("width",d=>xHist(d.x1)-xHist(d.x0))
  .attr("y",d=>yHist(d.n)).attr("height",d=>yHist(0)-yHist(d.n))
  .attr("fill","none").attr("stroke","#000").attr("stroke-width",1);
xAxis(xHist, histXTicks, P.hist.y1);
yAxis(yHist, histYTicks, P.hist.x0);
title(P.hist,"Histogram of suhuMaxFor$residuals");
labels(P.hist,"suhuMaxFor$residuals","Frequency");

// ---- Panel 2: Normal Q-Q
clip("cq",P.qq);
svg.append("g").selectAll("circle").data(qqPoints).join("circle")
  .attr("cx",d=>xQQ(d[0])).attr("cy",d=>yQQ(d[1])).attr("r",2.1)
  .attr("fill","none").attr("stroke","#000").attr("stroke-width",1);
const qx0 = xQQ.invert(P.qq.x0), qx1 = xQQ.invert(P.qq.x1);
svg.append("line").attr("clip-path","url(#cq)")
  .attr("x1",xQQ(qx0)).attr("y1",yQQ(qqLineCoef[0]+qqLineCoef[1]*qx0))
  .attr("x2",xQQ(qx1)).attr("y2",yQQ(qqLineCoef[0]+qqLineCoef[1]*qx1))
  .attr("stroke","#000").attr("stroke-width",0.9);
box(P.qq);
xAxis(xQQ, qqXTicks, P.qq.y1);
yAxis(yQQ, residYTicks, P.qq.x0);
title(P.qq,"Normal Q-Q Plot");
labels(P.qq,"Theoretical Quantiles","Sample Quantiles");

// ---- Panel 3: residuals vs fitted
const n1 = Math.min(residualsCore.length, fittedCore.length);
const n2 = Math.min(residualsCore2.length, fittedCore2.length);
const fitPts = d3.range(n1).map(i=>[fittedCore[i],residualsCore[i]])
  .concat(d3.range(n2).map(i=>[fittedCore2[i],residualsCore2[i]]))
  .concat(fittedOutliers);
svg.append("g").selectAll("circle").data(fitPts).join("circle")
  .attr("cx",d=>xFit(d[0])).attr("cy",d=>yBot(d[1])).attr("r",2.1)
  .attr("fill","none").attr("stroke","#0000ff").attr("stroke-width",1.15);
box(P.fit);
clip("cf",P.fit);
svg.append("line").attr("clip-path","url(#cf)").attr("x1",P.fit.x0).attr("x2",P.fit.x1)
  .attr("y1",yBot(0)).attr("y2",yBot(0)).attr("stroke","#222").attr("stroke-width",1.6);
xAxis(xFit, fittedXTicks, P.fit.y1);
yAxis(yBot, residYTicks, P.fit.x0);
labels(P.fit,"suhuMaxFor$fitted","suhuMaxFor$residuals");

// ---- Panel 4: residuals vs index (observation order)
const step1 = (nObs-1)/(residualsCore.length-1);
const step2 = (nObs-1)/(residualsCore2.length);
const idxPts = residualsCore.map((r,i)=>[1+i*step1, r])
  .concat(residualsCore2.map((r,i)=>[1+(i+0.5)*step2, r]))
  .concat(indexOutliers);
svg.append("g").selectAll("circle").data(idxPts).join("circle")
  .attr("cx",d=>xIdx(d[0])).attr("cy",d=>yBot(d[1])).attr("r",2.1)
  .attr("fill","none").attr("stroke","#0000ff").attr("stroke-width",1.15);
box(P.idx);
clip("ci",P.idx);
svg.append("line").attr("clip-path","url(#ci)").attr("x1",P.idx.x0).attr("x2",P.idx.x1)
  .attr("y1",yBot(0)).attr("y2",yBot(0)).attr("stroke","#222").attr("stroke-width",1.6);
xAxis(xIdx, indexXTicks, P.idx.y1);
yAxis(yBot, residYTicks, P.idx.x0);
labels(P.idx,"seq(1:nrow(data))","suhuMaxFor$residuals");
</script></body></html>
